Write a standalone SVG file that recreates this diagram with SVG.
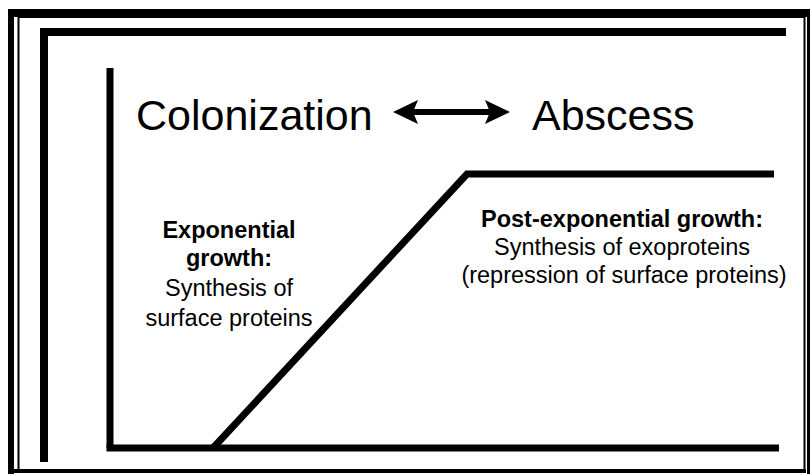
<svg xmlns="http://www.w3.org/2000/svg" width="810" height="474" viewBox="0 0 810 474">
  <style>
    .bar { fill: #000; }
    .title { font-family: "Liberation Sans", Arial, sans-serif; font-size: 43px; fill: #000; }
    .lbl { font-family: "Liberation Sans", Arial, sans-serif; font-size: 23.5px; fill: #000; text-anchor: middle; }
    .b { font-weight: bold; }
    .ax { stroke: #000; stroke-width: 7; fill: none; }
  </style>
  <defs>
    <marker id="head" viewBox="0 0 25 24" markerWidth="25" markerHeight="24" refX="13" refY="12" orient="auto-start-reverse" markerUnits="userSpaceOnUse">
      <path d="M0,0 L25,12 L0,24 L5,12 Z" fill="#000"/>
    </marker>
  </defs>
  <rect width="810" height="474" fill="#fff"/>
  <g id="frame">
    <rect class="bar" x="8" y="9" width="802" height="8"/>
    <rect class="bar" x="8" y="9" width="6" height="465"/>
    <rect class="bar" x="807" y="9" width="3" height="465"/>
    <rect x="18.5" y="17" width="786" height="453" fill="none" stroke="#000" stroke-width="2"/>
    <rect class="bar" x="8" y="469" width="798" height="4"/>
    <rect class="bar" x="40" y="28" width="746" height="8"/>
    <rect class="bar" x="40" y="28" width="8" height="434"/>
  </g>
  <g id="axes">
    <line class="ax" x1="110" y1="68" x2="110" y2="448"/>
    <line class="ax" x1="106.5" y1="448" x2="779" y2="448"/>
  </g>
  <g id="connectors">
    <polyline class="ax" points="213,448 467,174 774,174" stroke-linejoin="miter"/>
    <line x1="405" y1="112" x2="498" y2="112" stroke="#000" stroke-width="6" marker-start="url(#head)" marker-end="url(#head)"/>
  </g>
  <g id="colonization">
    <text class="title" x="136" y="130">Colonization</text>
  </g>
  <g id="abscess">
    <text class="title" x="532" y="130">Abscess</text>
  </g>
  <g id="exponential">
    <text class="lbl b" x="229" y="238">Exponential</text>
    <text class="lbl b" x="229" y="266">growth:</text>
    <text class="lbl" x="229" y="296">Synthesis of</text>
    <text class="lbl" x="229" y="326">surface proteins</text>
  </g>
  <g id="post-exponential">
    <text class="lbl b" x="622" y="227">Post-exponential growth:</text>
    <text class="lbl" x="622" y="255">Synthesis of exoproteins</text>
    <text class="lbl" x="624" y="283">(repression of surface proteins)</text>
  </g>
</svg>
